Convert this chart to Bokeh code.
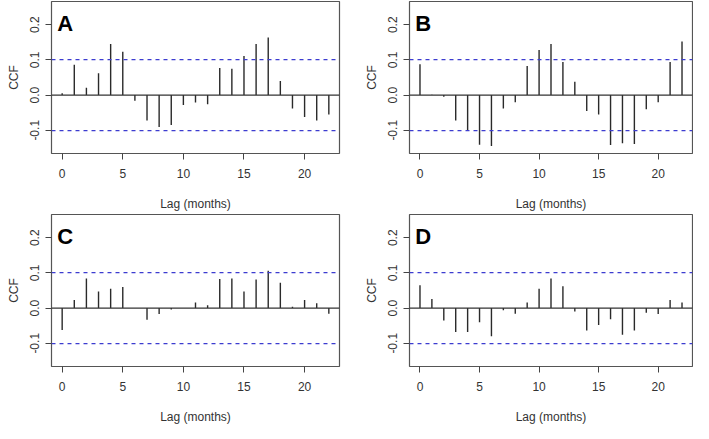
from bokeh.plotting import figure
from bokeh.layouts import gridplot
from bokeh.models import Range1d, FixedTicker, PrintfTickFormatter, Span, Label
from bokeh.embed import file_html
from bokeh.resources import INLINE

lags = list(range(0, 23))
ccf_a = [0.005, 0.086, 0.021, 0.062, 0.145, 0.123, -0.016, -0.072, -0.091, -0.085, -0.028, -0.021,
         -0.026, 0.077, 0.075, 0.111, 0.145, 0.164, 0.040, -0.038, -0.062, -0.072, -0.055]
ccf_b = [0.088, 0.001, -0.005, -0.072, -0.100, -0.141, -0.145, -0.038, -0.020, 0.083, 0.128, 0.145,
         0.094, 0.038, -0.045, -0.055, -0.142, -0.137, -0.139, -0.040, -0.020, 0.094, 0.152]
ccf_c = [-0.062, 0.023, 0.084, 0.047, 0.055, 0.060, 0.000, -0.033, -0.017, -0.004, 0.000, 0.016,
         0.008, 0.083, 0.084, 0.047, 0.081, 0.106, 0.072, 0.004, 0.023, 0.014, -0.016]
ccf_d = [0.065, 0.026, -0.035, -0.068, -0.068, -0.040, -0.080, -0.006, -0.016, 0.016, 0.055, 0.084,
         0.062, -0.010, -0.064, -0.048, -0.032, -0.076, -0.064, -0.013, -0.017, 0.023, 0.016]
panel_labels = ["A", "B", "C", "D"]
clim = 0.101
x_ticks = [0, 5, 10, 15, 20]
y_ticks = [-0.1, 0.0, 0.1, 0.2]

FONT = "Liberation Sans"


def make_panel(vals, letter, left, right, top, bottom, fw):
    p = figure(frame_width=fw, frame_height=152, output_backend="svg", toolbar_location=None,
               x_range=Range1d(-0.88, 22.88), y_range=Range1d(-0.166, 0.266),
               min_border_left=left, min_border_right=right, min_border_top=top,
               min_border_bottom=bottom, background_fill_color="white", border_fill_color="white")
    p.outline_line_color = "#555555"
    p.outline_line_width = 1.2
    p.xgrid.visible = False
    p.ygrid.visible = False
    p.segment(x0=lags, y0=[0] * len(lags), x1=lags, y1=vals, line_color="#2a2a2a", line_width=1.4)
    p.add_layout(Span(location=0, dimension="width", line_color="#333333", line_width=1.2))
    for c in (clim, -clim):
        p.add_layout(Span(location=c, dimension="width", line_color="#3c3cd0",
                          line_width=1.2, line_dash="4 4"))
    p.add_layout(Label(x=-0.4, y=0.24, text=letter, text_font=FONT, text_font_style="bold",
                       text_font_size="22px", text_color="black", text_baseline="top"))
    for ax in (p.xaxis[0], p.yaxis[0]):
        ax.axis_line_color = None
        ax.major_tick_line_color = "#444444"
        ax.major_tick_in = 0
        ax.major_tick_out = 6
        ax.minor_tick_line_color = None
        ax.major_label_text_font = FONT
        ax.major_label_text_font_size = "12px"
        ax.major_label_text_color = "#333333"
        ax.axis_label_text_font = FONT
        ax.axis_label_text_font_size = "12px"
        ax.axis_label_text_font_style = "normal"
        ax.axis_label_text_color = "#333333"
    p.xaxis.ticker = FixedTicker(ticks=x_ticks)
    p.yaxis.ticker = FixedTicker(ticks=y_ticks)
    p.yaxis.formatter = PrintfTickFormatter(format="%.1f")
    p.yaxis.major_label_orientation = "vertical"
    p.xaxis.axis_label = "Lag (months)"
    p.yaxis.axis_label = "CCF"
    p.xaxis.major_label_standoff = 9
    p.xaxis.axis_label_standoff = 16
    p.yaxis.major_label_standoff = 6
    p.yaxis.axis_label_standoff = 7
    return p


pa = make_panel(ccf_a, panel_labels[0], 51, 13, 1, 58, 288)
pb = make_panel(ccf_b, panel_labels[1], 57, 1, 1, 58, 283)
pc = make_panel(ccf_c, panel_labels[2], 51, 13, 1, 58, 288)
pd = make_panel(ccf_d, panel_labels[3], 57, 1, 1, 58, 283)

grid = gridplot([[pa, pb], [pc, pd]], toolbar_location=None)

open("out.html", "w").write(file_html(grid, INLINE))
